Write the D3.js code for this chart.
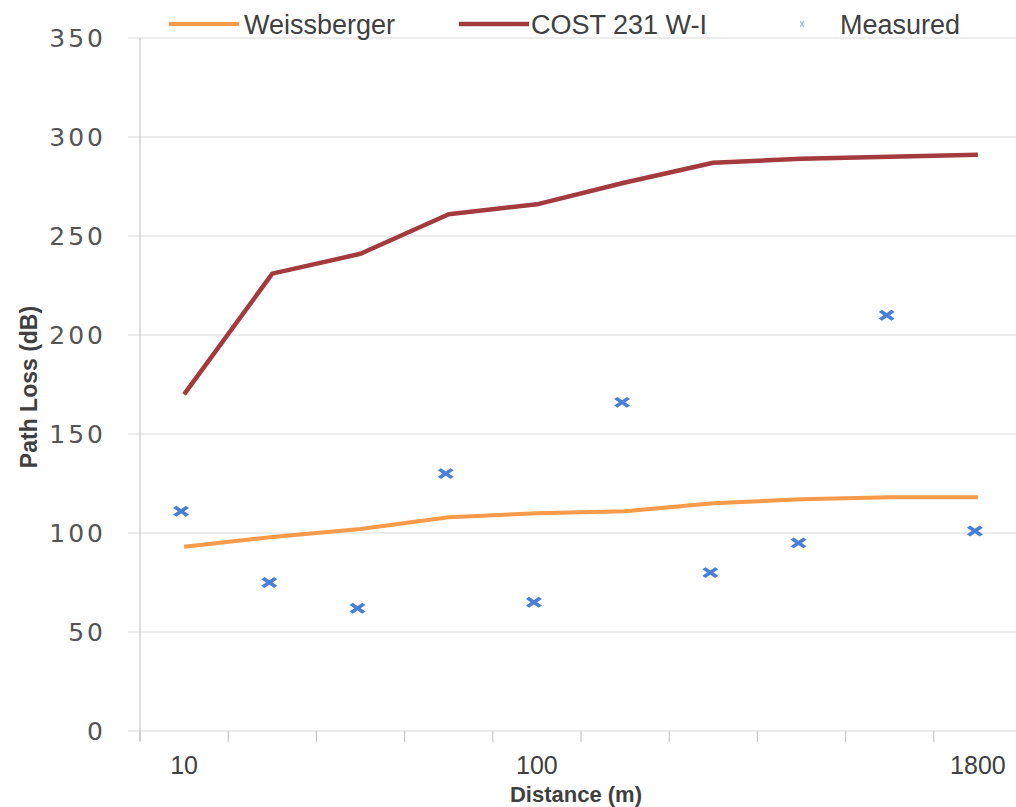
<!DOCTYPE html>
<html>
<head>
<meta charset="utf-8">
<script src="https://cdn.jsdelivr.net/npm/d3@7"></script>
<style>
  body { margin: 0; background: #fff; }
  svg { display: block; }
  .grid line { stroke: #d9d9d9; stroke-width: 1.2; }
</style>
</head>
<body>
<svg id="chart" width="1016" height="807"></svg>
<script>
// distance categories (only three of them carry a label)
const categories = ["10", "", "", "", "100", "", "", "", "", "1800"]
const weissberger = [93, 98, 102, 108, 110, 111, 115, 117, 118, 118]
const cost231 = [170, 231, 241, 261, 266, 277, 287, 289, 290, 291]
const measured = [111, 75, 62, 130, 65, 166, 80, 95, 210, 101]
const yTicks = [0, 50, 100, 150, 200, 250, 300, 350]

const svg = d3.select("#chart")
const margin = { left: 140, top: 38, bottom: 76 }
const w = 1016, h = 807

const x = d3
  .scaleBand()
  .domain(d3.range(categories.length))
  .range([margin.left, margin.left + 88.2 * categories.length])
  .padding(0)

const y = d3
  .scaleLinear()
  .domain([0, 350])
  .range([h - margin.bottom, margin.top])

const cx = (i) => x(i) + x.bandwidth() / 2

// horizontal gridlines
svg
  .append("g")
  .classed("grid", true)
  .selectAll("line")
  .data(yTicks)
  .join("line")
  .attr("x1", margin.left - 12)
  .attr("x2", w)
  .attr("y1", (d) => y(d))
  .attr("y2", (d) => y(d))

// y axis line + labels
svg
  .append("line")
  .attr("x1", margin.left)
  .attr("x2", margin.left)
  .attr("y1", y(350))
  .attr("y2", y(0) + 10)
  .attr("stroke", "#c8c8c8")
  .attr("stroke-width", 1.2)

svg
  .append("g")
  .selectAll("text")
  .data(yTicks)
  .join("text")
  .attr("x", 106)
  .attr("y", (d) => y(d) + 9)
  .attr("text-anchor", "end")
  .attr("font-family", "DejaVu Sans")
  .attr("font-size", 25)
  .attr("letter-spacing", 3)
  .attr("fill", "#555")
  .text((d) => d)

// x axis: tick marks at the category boundaries
const bounds = d3.range(categories.length + 1).map((i) => margin.left + i * x.bandwidth())
svg
  .append("g")
  .selectAll("line")
  .data(bounds)
  .join("line")
  .attr("x1", (d) => d)
  .attr("x2", (d) => d)
  .attr("y1", y(0))
  .attr("y2", y(0) + 11)
  .attr("stroke", "#c8c8c8")
  .attr("stroke-width", 1.2)

svg
  .append("g")
  .selectAll("text")
  .data(categories)
  .join("text")
  .attr("x", (d, i) => cx(i))
  .attr("y", 774)
  .attr("text-anchor", "middle")
  .attr("font-family", "Liberation Sans")
  .attr("font-size", 25)
  .attr("fill", "#404040")
  .text((d) => d)

// axis titles
svg
  .append("text")
  .attr("x", 576)
  .attr("y", 802)
  .attr("text-anchor", "middle")
  .attr("font-family", "Liberation Sans")
  .attr("font-weight", "bold")
  .attr("font-size", 22)
  .attr("fill", "#404040")
  .text("Distance (m)")

svg
  .append("text")
  .attr("transform", "translate(37, 387) rotate(-90)")
  .attr("text-anchor", "middle")
  .attr("font-family", "Liberation Sans Narrow, Liberation Sans")
  .attr("font-weight", "bold")
  .attr("font-size", 23)
  .attr("fill", "#404040")
  .text("Path Loss (dB)")

// model lines
const line = d3
  .line()
  .x((d, i) => cx(i))
  .y((d) => y(d))

svg
  .append("path")
  .attr("d", line(weissberger))
  .attr("fill", "none")
  .attr("stroke", "#f79a4a")
  .attr("stroke-width", 4)
  .attr("stroke-linejoin", "round")

svg
  .append("path")
  .attr("d", line(cost231))
  .attr("fill", "none")
  .attr("stroke", "#a33b3e")
  .attr("stroke-width", 4.5)
  .attr("stroke-linejoin", "round")

// measured markers (x shaped)
const marker = d3.symbol(d3.symbolX, 70)
svg
  .append("g")
  .selectAll("path")
  .data(measured)
  .join("path")
  .attr("transform", (d, i) => `translate(${cx(i) - 3}, ${y(d)}) scale(1.25, 0.85)`)
  .attr("d", marker)
  .attr("fill", "none")
  .attr("stroke", "#4a7fd6")
  .attr("stroke-width", 3.6)

// legend
const legend = svg.append("g").attr("font-family", "Liberation Sans").attr("font-size", 27).attr("fill", "#404040")
legend.append("line").attr("x1", 169).attr("x2", 239).attr("y1", 24).attr("y2", 24).attr("stroke", "#f79a4a").attr("stroke-width", 4)
legend.append("text").attr("x", 244).attr("y", 34).text("Weissberger")
legend.append("line").attr("x1", 459).attr("x2", 529).attr("y1", 24).attr("y2", 24).attr("stroke", "#a33b3e").attr("stroke-width", 4.5)
legend.append("text").attr("x", 531).attr("y", 34).text("COST 231 W-I")
legend
  .append("path")
  .attr("transform", "translate(802, 24) scale(0.5, 0.8)")
  .attr("d", d3.symbol(d3.symbolX, 40))
  .attr("fill", "none")
  .attr("stroke", "#9fbbe8")
  .attr("stroke-width", 2)
legend.append("text").attr("x", 840).attr("y", 34).text("Measured")
</script>
</body>
</html>
